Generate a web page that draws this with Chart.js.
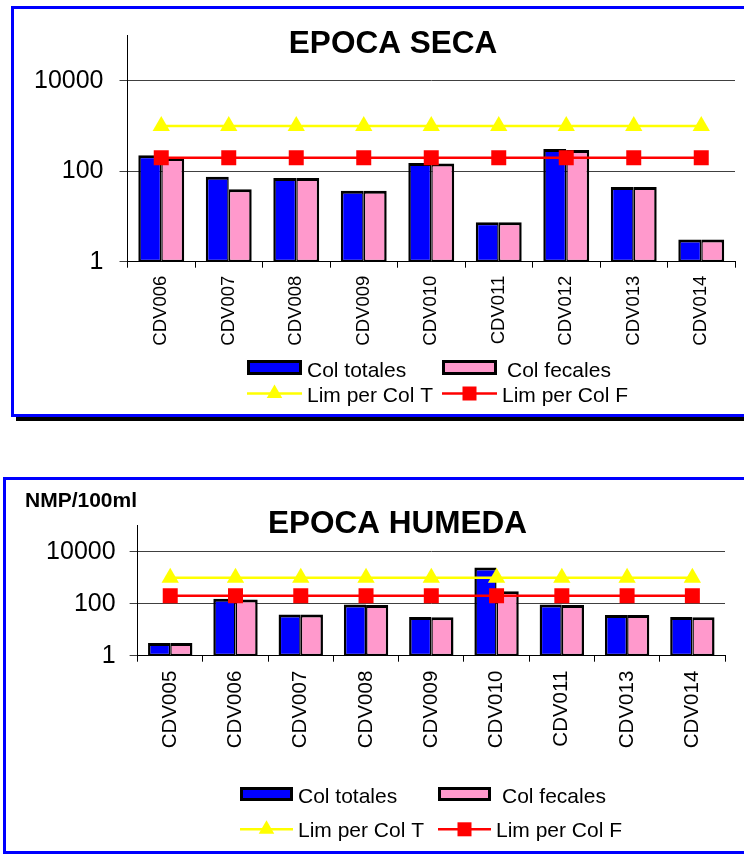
<!DOCTYPE html>
<html>
<head>
<meta charset="utf-8">
<script src="https://cdn.jsdelivr.net/npm/chart.js@4.4.1/dist/chart.umd.min.js"></script>
<style>
  html, body { margin: 0; padding: 0; width: 744px; height: 854px; overflow: hidden; background: #fff; }
  .box { position: absolute; border: 3px solid #0000FF; background: #fff; }
  #box1 { left: 11px; top: 6px; width: 800px; height: 405px; box-shadow: 5px 4px 0 #000; }
  #box2 { left: 3px; top: 477px; width: 800px; height: 371px; }
  canvas { position: absolute; }
  #c1 { left: 14px; top: 9px; }
  #c2 { left: 6px; top: 480px; }
  #unit { position: absolute; left: 25px; top: 487px; font: bold 21px 'Liberation Sans', Arial, sans-serif; color: #000; line-height: 26px; white-space: nowrap; }
</style>
</head>
<body>
<div class="box" id="box1"></div>
<div class="box" id="box2"></div>
<canvas id="c1" width="758" height="405"></canvas>
<canvas id="c2" width="783" height="371"></canvas>
<div id="unit"></div>
<script>
// ---------- DATA ----------
const titleSeca = 'EPOCA SECA';
const titleHumeda = 'EPOCA HUMEDA';
const unitLabel = 'NMP/100ml';
const seriesNames = ['Col totales', 'Col fecales', 'Lim per Col T', 'Lim per Col F'];
const yTickValues = [1, 100, 10000];

const categoriesSeca = ['CDV006', 'CDV007', 'CDV008', 'CDV009', 'CDV010', 'CDV011', 'CDV012', 'CDV013', 'CDV014'];
const colTotalesSeca = [226, 76, 71, 37, 153, 7.5, 310, 45, 3.1];
const colFecalesSeca = [197, 40, 71, 37, 148, 7.5, 296, 45, 3.1];
const limColTSeca = [1000, 1000, 1000, 1000, 1000, 1000, 1000, 1000, 1000];
const limColFSeca = [200, 200, 200, 200, 200, 200, 200, 200, 200];

const categoriesHumeda = ['CDV005', 'CDV006', 'CDV007', 'CDV008', 'CDV009', 'CDV010', 'CDV011', 'CDV013', 'CDV014'];
const colTotalesHumeda = [3.1, 156, 38, 92, 31, 2450, 92, 37, 31];
const colFecalesHumeda = [3.1, 143, 38, 88, 30, 297, 88, 37, 30];
const limColTHumeda = [1000, 1000, 1000, 1000, 1000, 1000, 1000, 1000, 1000];
const limColFHumeda = [200, 200, 200, 200, 200, 200, 200, 200, 200];

// ---------- STYLE ----------
const FONT = "'Liberation Sans', Arial, sans-serif";
Chart.defaults.font.family = FONT;
Chart.defaults.color = '#000';
document.getElementById('unit').textContent = unitLabel;

const BLUE = '#0000FF', PINK = '#FF99CC', YELLOW = '#FFFF00', RED = '#FF0000';

// Legend drawn in a 2x2 grid, like the original
const gridLegend = {
  id: 'gridLegend',
  afterDraw(chart, args, o) {
    const ctx = chart.ctx;
    ctx.save();
    ctx.font = o.fontSize + 'px ' + FONT;
    ctx.textBaseline = 'middle';
    ctx.textAlign = 'left';
    chart.data.datasets.forEach((ds, i) => {
      const s = o.slots[i];
      const w = o.swatchW;
      if (ds.type === 'bar') {
        const h = o.swatchH;
        ctx.fillStyle = '#000';
        ctx.fillRect(s.x, s.y - h / 2, w, h);
        ctx.fillStyle = ds.backgroundColor;
        ctx.fillRect(s.x + 3, s.y - h / 2 + 3, w - 6, h - 6);
      } else {
        ctx.strokeStyle = ds.borderColor;
        ctx.lineWidth = ds.borderWidth;
        ctx.beginPath();
        ctx.moveTo(s.x, s.y);
        ctx.lineTo(s.x + w, s.y);
        ctx.stroke();
        const cx = s.x + w / 2;
        ctx.fillStyle = ds.pointBackgroundColor;
        if (ds.pointStyle === 'triangle') {
          const r = o.markR;
          ctx.beginPath();
          ctx.moveTo(cx, s.y - r);
          ctx.lineTo(cx + r * 0.866, s.y + r / 2);
          ctx.lineTo(cx - r * 0.866, s.y + r / 2);
          ctx.closePath();
          ctx.fill();
        } else {
          const a = o.markSq;
          ctx.fillRect(cx - a / 2, s.y - a / 2, a, a);
        }
      }
      ctx.fillStyle = '#000';
      ctx.fillText(ds.label, s.tx, s.ty);
    });
    ctx.restore();
  }
};

function makeChart(id, cfg) {
  const datasets = [
    { type: 'bar', label: seriesNames[0], data: cfg.tot, backgroundColor: BLUE, borderColor: '#000',
      borderWidth: { left: 2.5, right: 1.5, top: 3, bottom: 2 }, borderSkipped: false, order: 2,
      categoryPercentage: 0.68, barPercentage: 1.0 },
    { type: 'bar', label: seriesNames[1], data: cfg.fec, backgroundColor: PINK, borderColor: '#000',
      borderWidth: { left: 1.5, right: 2.5, top: 3, bottom: 2 }, borderSkipped: false, order: 2,
      categoryPercentage: 0.68, barPercentage: 1.0 },
    { type: 'line', label: seriesNames[2], data: cfg.limT, borderColor: YELLOW, borderWidth: 2.5,
      pointStyle: 'triangle', pointRadius: 10, pointBackgroundColor: YELLOW, pointBorderColor: YELLOW,
      pointBorderWidth: 0, fill: false, order: 1 },
    { type: 'line', label: seriesNames[3], data: cfg.limF, borderColor: RED, borderWidth: 2.5,
      pointStyle: 'rect', pointRadius: 10.6, pointBackgroundColor: RED, pointBorderColor: RED,
      pointBorderWidth: 0, fill: false, order: 1 }
  ];
  return new Chart(document.getElementById(id), {
    type: 'bar',
    data: { labels: cfg.labels, datasets },
    plugins: [gridLegend],
    options: {
      responsive: false,
      animation: false,
      devicePixelRatio: 1,
      layout: { padding: 0 },
      plugins: {
        legend: { display: false },
        tooltip: { enabled: false },
        title: {
          display: true, text: cfg.title, color: '#000',
          font: { size: 31.5, weight: 'bold', family: FONT, lineHeight: 1.2 },
          padding: { top: cfg.titleTop, bottom: cfg.titleBottom }
        },
        gridLegend: cfg.legend
      },
      scales: {
        x: {
          offset: true,
          grid: { display: true, drawOnChartArea: false, offset: true, tickLength: 6, color: '#000', lineWidth: 1 },
          border: { color: '#000', width: 1 },
          ticks: { autoSkip: false, minRotation: 90, maxRotation: 90, padding: cfg.xPad,
                   font: { size: cfg.xFont }, color: '#000' },
          afterFit: s => { s.height = cfg.xHeight; }
        },
        y: {
          type: 'logarithmic', position: 'left', min: 1, max: 100000,
          afterBuildTicks: s => { s.ticks = yTickValues.map(v => ({ value: v })); },
          afterFit: s => { s.width = cfg.yWidth; s.paddingTop = 0; s.paddingBottom = 0; },
          grid: { color: '#404040', lineWidth: 1, tickLength: 8, drawTicks: true },
          border: { color: '#000', width: 1 },
          ticks: { padding: cfg.yPad, font: { size: 25 }, color: '#000', callback: v => String(v) }
        },
        // empty spacer on the right so the title sits where the original puts it
        spacer: {
          type: 'linear', position: 'right', display: true,
          grid: { display: false, drawTicks: false }, border: { display: false },
          ticks: { display: false },
          afterFit: s => { s.width = cfg.rightW; s.paddingTop = 0; s.paddingBottom = 0; }
        }
      }
    }
  });
}

makeChart('c1', {
  labels: categoriesSeca, tot: colTotalesSeca, fec: colFecalesSeca, limT: limColTSeca, limF: limColFSeca,
  title: titleSeca, titleTop: 16.4, titleBottom: -27.6,
  yWidth: 113.5, rightW: 37, yPad: 16, xHeight: 152.3, xPad: 8, xFont: 18.5,
  legend: {
    fontSize: 21, swatchW: 55, swatchH: 15, markR: 9, markSq: 14,
    slots: [
      { x: 233, y: 358.5, tx: 293, ty: 362 },
      { x: 428, y: 358.5, tx: 493, ty: 362 },
      { x: 233, y: 384.5, tx: 293, ty: 387 },
      { x: 428, y: 384.5, tx: 488, ty: 387 }
    ]
  }
});

makeChart('c2', {
  labels: categoriesHumeda, tot: colTotalesHumeda, fec: colFecalesHumeda, limT: limColTHumeda, limF: limColFHumeda,
  title: titleHumeda, titleTop: 25.4, titleBottom: -17.6,
  yWidth: 131.6, rightW: 64, yPad: 14, xHeight: 195.3, xPad: 9, xFont: 20.5,
  legend: {
    fontSize: 21, swatchW: 53, swatchH: 14, markR: 9, markSq: 14,
    slots: [
      { x: 234, y: 314, tx: 292, ty: 317 },
      { x: 432, y: 314, tx: 496, ty: 317 },
      { x: 234, y: 349.3, tx: 292, ty: 351 },
      { x: 432, y: 349.3, tx: 490, ty: 351 }
    ]
  }
});
</script>
</body>
</html>
